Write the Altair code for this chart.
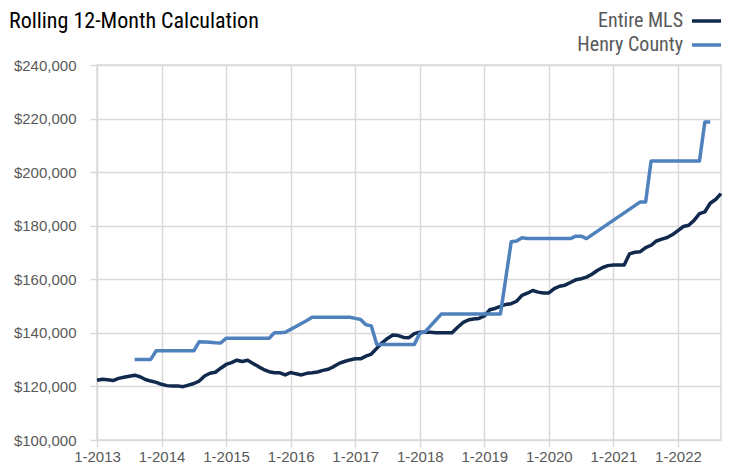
import altair as alt
import pandas as pd

title_text = "Rolling 12-Month Calculation"
series_names = ["Entire MLS", "Henry County"]
series_colors = ["#10294d", "#4f81bd"]

# month index: 0 = 1-2013
year_ticks = [0, 12, 24, 36, 48, 60, 72, 84, 96, 108]
y_ticks = [100000, 120000, 140000, 160000, 180000, 200000, 220000, 240000]

# values in thousands of dollars, one per month starting 1-2013
entire_mls = [
    122.3, 122.7, 122.5, 122.2, 123.0, 123.4, 123.8, 124.2, 123.6, 122.6,
    122.0, 121.5, 120.8, 120.3, 120.2, 120.2, 119.9, 120.5, 121.1, 122.0,
    123.9, 124.9, 125.3, 126.8, 128.2, 128.9, 129.8, 129.3, 129.8, 128.6,
    127.4, 126.3, 125.5, 125.1, 125.1, 124.3, 125.2, 124.7, 124.3, 124.9,
    125.1, 125.4, 126.0, 126.4, 127.4, 128.6, 129.3, 129.9, 130.3, 130.3,
    131.3, 132.1, 134.2, 136.3, 137.9, 139.2, 139.0, 138.3, 138.2, 139.7,
    140.2, 140.2, 140.2, 140.0, 140.0, 140.0, 140.0, 142.0, 143.8, 144.8,
    145.2, 145.4, 146.3, 148.6, 149.1, 149.9, 150.6, 150.9, 151.8, 154.0,
    154.8, 155.8, 155.2, 154.9, 154.9, 156.5, 157.4, 157.8, 158.8, 159.8,
    160.2, 160.8, 161.9, 163.3, 164.4, 165.1, 165.3, 165.3, 165.3, 169.5,
    170.1, 170.3, 171.8, 172.7, 174.3, 175.0, 175.6, 176.7, 178.2, 179.7,
    180.2, 182.0, 184.5, 185.2, 188.4, 189.8, 192.0,
]

henry_county = [
    None, None, None, None, None, None, None, 130.1, 130.1, 130.1,
    130.1, 133.3, 133.3, 133.3, 133.3, 133.3, 133.3, 133.3, 133.3, 136.7,
    136.6, 136.5, 136.3, 136.2, 138.0, 138.0, 138.0, 138.0, 138.0, 138.0,
    138.0, 138.0, 138.0, 140.0, 140.0, 140.2, 141.3, 142.4, 143.5, 144.6,
    145.8, 145.8, 145.8, 145.8, 145.8, 145.8, 145.8, 145.8, 145.4, 145.0,
    143.0, 142.6, 135.7, 135.7, 135.7, 135.7, 135.7, 135.7, 135.7, 135.7,
    139.8, 140.4, 142.6, 144.8, 147.0, 147.0, 147.0, 147.0, 147.0, 147.0,
    147.0, 147.0, 147.0, 147.0, 147.0, 147.0, 160.5, 174.0, 174.3, 175.5,
    175.2, 175.2, 175.2, 175.2, 175.2, 175.2, 175.2, 175.2, 175.2, 176.1,
    176.1, 175.2, None, None, None, None, None, None, None, None,
    None, 188.9, 188.9, 204.2, 204.2, 204.2, 204.2, 204.2, 204.2, 204.2,
    204.2, 204.2, 204.2, 218.7, 218.7, None, None,
]

rows = []
for name, vals in zip(series_names, [entire_mls, henry_county]):
    for i, v in enumerate(vals):
        if v is not None:
            rows.append({"month": i, "value": v * 1000, "series": name})
df = pd.DataFrame(rows)

x_enc = alt.X(
    "month:Q",
    scale=alt.Scale(domain=[0, 116], nice=False, zero=False),
    axis=alt.Axis(
        values=year_ticks,
        labelExpr="'1-' + (2013 + datum.value / 12)",
        title=None,
        domain=False,
        grid=True,
        gridColor="#d9d9d9",
        gridWidth=1.5,
        ticks=True,
        tickColor="#d9d9d9",
        tickWidth=1.5,
        tickSize=7,
        labelFont="Liberation Sans",
        labelFontSize=15,
        labelColor="#595959",
        labelPadding=2,
        labelOverlap=False,
        labelBound=False,
        labelFlush=False,
    ),
)
y_enc = alt.Y(
    "value:Q",
    scale=alt.Scale(domain=[100000, 240000], nice=False, zero=False),
    axis=alt.Axis(
        values=y_ticks,
        format="$,.0f",
        title=None,
        domain=False,
        grid=True,
        gridColor="#d9d9d9",
        gridWidth=1.5,
        ticks=True,
        tickColor="#d9d9d9",
        tickWidth=1.5,
        tickSize=7,
        labelFont="Liberation Sans",
        labelFontSize=15,
        labelColor="#595959",
        labelPadding=14,
        labelOverlap=False,
    ),
)

color_scale = alt.Scale(domain=series_names, range=series_colors)

lines = []
for name in series_names:
    lines.append(
        alt.Chart(df)
        .transform_filter(alt.datum.series == name)
        .mark_line(strokeWidth=3.5, strokeJoin="round")
        .encode(
            x=x_enc,
            y=y_enc,
            color=alt.Color("series:N", scale=color_scale, legend=None),
        )
    )

narrow = "Liberation Sans Narrow, Roboto Condensed, DejaVu Sans Condensed, sans-serif"

title = (
    alt.Chart(pd.DataFrame({"t": [title_text]}))
    .mark_text(align="left", baseline="alphabetic", font=narrow, fontSize=22, color="#000000")
    .encode(x=alt.value(-88), y=alt.value(-37), text="t:N")
)

legend_layers = []
legend_y = [-44, -20]
for name, col, ly in zip(series_names, series_colors, legend_y):
    legend_layers.append(
        alt.Chart(pd.DataFrame({"s": [name]}))
        .mark_text(align="right", baseline="middle", font=narrow, fontSize=20, color="#595959")
        .encode(x=alt.value(586), y=alt.value(ly), text="s:N")
    )
    legend_layers.append(
        alt.Chart(pd.DataFrame({"s": [name]}))
        .mark_rule(strokeWidth=3.5, color=col)
        .encode(x=alt.value(595), x2=alt.value(624), y=alt.value(ly))
    )

chart = (
    alt.layer(*lines, title, *legend_layers)
    .properties(
        width=624,
        height=375,
        padding={"left": 89, "top": 57, "right": 3, "bottom": 26},
        autosize=alt.AutoSizeParams(type="none"),
    )
    .configure_view(stroke="#d9d9d9", strokeWidth=1.5)
)

chart.save("out.html", embed_options={"renderer": "svg", "actions": False})
